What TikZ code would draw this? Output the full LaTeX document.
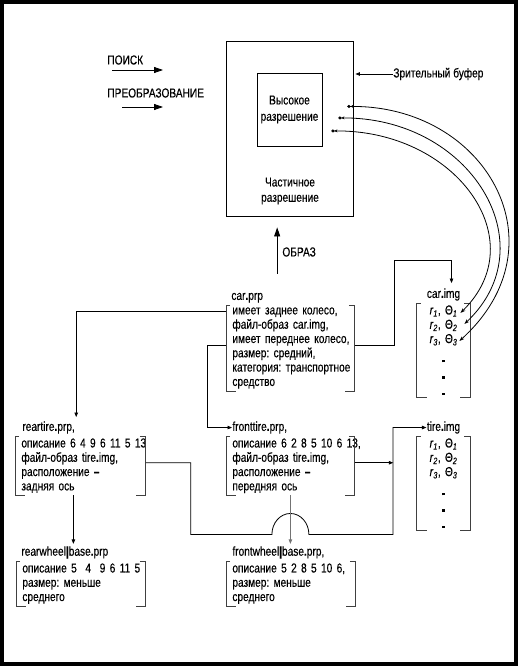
\documentclass[tikz,border=0pt]{standalone}
\usepackage{fontspec}
\setmainfont{Liberation Sans}[FakeStretch=0.78,FakeBold=0.3]
\usetikzlibrary{arrows.meta,positioning,calc}
\newcommand{\bdot}{\textbf{.}}
\newcommand{\bbar}{\textbf{|}}
\newcommand{\sqdot}{\rule{2.3pt}{2.3pt}}
\frenchspacing

\begin{document}
\begin{tikzpicture}[
    x=1pt, y=-1pt,
    line width=0.8pt,
    font=\fontsize{13pt}{14.3pt}\selectfont,
    lbl/.style={inner sep=0pt},
    body/.style={anchor=north west,align=left,inner xsep=6pt,inner ysep=2pt},
    img body/.style={anchor=north,align=center,text width=41pt,inner xsep=6pt,inner ysep=2pt},
    bracket/.style={draw=black!75,line width=0.8pt},
    arr/.style={-{Triangle[length=4.5pt,width=3.5pt]}},
    big arr/.style={-{Triangle[length=9pt,width=6pt]}},
    link/.style={{Circle[length=3pt]Stealth[length=3pt,width=3pt]}-{Stealth[length=5pt,width=3.5pt]}}
]
\useasboundingbox (0,0) rectangle (523,668);

% Frame
\draw[line width=4pt] (2,2) rectangle (515.5,664);

% Operations
\node[lbl, anchor=west] (search) at (107,60) {ПОИСК};
\node[lbl, anchor=west] (trans) at (107,93) {ПРЕОБРАЗОВАНИЕ};
\draw[big arr] ($(search.west)+(5,10)$) -- ++(51,0);
\draw[big arr] ($(trans.west)+(15,14)$) -- ++(41,0);

% Viewing buffer
\node[draw, minimum width=127pt, minimum height=175pt] (buffer) at (289.5,128.5) {};
\node[draw, minimum width=65pt, minimum height=73pt, align=center] (hires) at (289.5,109.5) {Высокое\\[2pt]разрешение};
\node[align=center] (partial) at (290,191) {Частичное\\[1pt]разрешение};
\node[lbl, anchor=west] (viewlbl) at (393,74) {Зрительный буфер};
\node[lbl, anchor=west] (obraz) at (282,252) {ОБРАЗ};

% Car
\node[body, text width=116pt] (carprp) at (226,305) {имеет~заднее~колесо,\\файл-образ~car.img,\\имеет~переднее~колесо,\\размер:~средний,\\категория:~транспортное\\средство};
\node[lbl, above right=2pt and 5pt of carprp.north west] (carlbl) {car\bdot prp};
\node[img body] (carimg) at (443.5,303) {\textit{r}\textsubscript{\textit{1}}, Θ\textsubscript{\textit{1}}\\\textit{r}\textsubscript{\textit{2}}, Θ\textsubscript{\textit{2}}\\\textit{r}\textsubscript{\textit{3}}, Θ\textsubscript{\textit{3}}\\[5pt]\sqdot\\[2pt]\sqdot\\[2pt]\sqdot};
\node[lbl, above=2pt of carimg] (carimglbl) {car\bdot img};

% Tires
\node[body, text width=118pt] (rearprp) at (15,436) {описание~6~4~9~6~11~5~13\\файл-образ~tire\bdot img,\\расположение~\textbf{–}\\задняя~ось};
\node[lbl, above right=2pt and 7pt of rearprp.north west] (rearlbl) {reartire\bdot prp,};
\node[body, text width=116pt] (frontprp) at (226,436) {описание~6~2~8~5~10~6~13,\\файл-образ~tire\bdot img,\\расположение~\textbf{–}\\передняя~ось};
\node[lbl, above right=2pt and 6pt of frontprp.north west] (frontlbl) {fronttire\bdot prp,};
\node[img body] (tireimg) at (443.5,436) {\textit{r}\textsubscript{\textit{1}}, Θ\textsubscript{\textit{1}}\\\textit{r}\textsubscript{\textit{2}}, Θ\textsubscript{\textit{2}}\\\textit{r}\textsubscript{\textit{3}}, Θ\textsubscript{\textit{3}}\\[5pt]\sqdot\\[2pt]\sqdot\\[2pt]\sqdot};
\node[lbl, above=2pt of tireimg] (tirelbl) {tire\bdot img};

% Wheel bases
\node[body, text width=117pt] (rearbase) at (16,561) {описание~5~~4~~9~6~11~5\\размер:~меньше\\среднего};
\node[lbl, above right=2pt and 5pt of rearbase.north west] (rearbaselbl) {rearwheel\bbar base\bdot prp};
\node[body, text width=117pt] (frontbase) at (226,561) {описание~5~2~8~5~10~6,\\размер:~меньше\\среднего};
\node[lbl, above right=2pt and 6pt of frontbase.north west] (frontbaselbl) {frontwheel\bbar base\bdot prp,};

% Brackets
\foreach \n in {carprp,carimg,rearprp,frontprp,tireimg,rearbase,frontbase}{
  \draw[bracket] ([xshift=4pt]\n.north west) -- (\n.north west) -- (\n.south west) -- ([xshift=10pt]\n.south west);
  \draw[bracket] ([xshift=-6pt]\n.north east) -- (\n.north east) -- (\n.south east) -- ([xshift=-10pt]\n.south east);
}

% Buffer arrows
\draw[arr] (viewlbl.west) -- ($(viewlbl.west -| buffer.east)+(2,0)$);
\draw[big arr] ($(carlbl.north)+(30,-19)$) -- ($(carlbl.north |- buffer.south)+(30,11)$);

% Links from the buffer to the image entries
\coordinate (hr1) at ($(hires.east)+(25,-3)$);
\coordinate (hr2) at ($(hires.east)+(16,8.5)$);
\coordinate (hr3) at ($(hires.east)+(9,21.5)$);
\draw[link] (hr1) .. controls +(138,-2) and +(106,-96) .. ($(carimg.north east)+(-11,38)$);
\draw[link] (hr2) .. controls +(132,-2) and +(84,-79) .. ($(carimg.north east)+(-6,21)$);
\draw[link] (hr3) .. controls +(124,-2) and +(75,-73) .. ($(carimg.north east)+(-10,10)$);

% Property links
\draw[arr] ([yshift=3pt]carprp.east) -- ++(40,0) |- ($(carimglbl.north)+(8,-28)$) -- ($(carimglbl.north)+(8,-5)$);
\draw[arr] ([yshift=-6pt]carprp.north west) -| ($(rearlbl.north east)+(1,-4)$);
\draw[arr] ([yshift=3pt]carprp.west) -- ++(-19,0) |- (frontlbl.west);
\draw[arr] ([yshift=3pt]rearprp.east) -- ++(45,0) |- ($(frontprp.south)+(-18.5,39)$)
    arc[start angle=180,end angle=0,x radius=18.5pt,y radius=21pt] -- ++(84,0) |- (tirelbl.west);
\draw[arr] ([yshift=3pt]frontprp.east) -- ++(38.5,0);
\draw[arr] ($(rearprp.south)+(-7,0)$) -- ($(rearprp.south |- rearbaselbl.north)+(-7,-2)$);
\draw[arr, draw=black!55] (frontprp.south) -- ($(frontprp.south |- frontbaselbl.north)+(0,-2)$);

\end{tikzpicture}
\end{document}
